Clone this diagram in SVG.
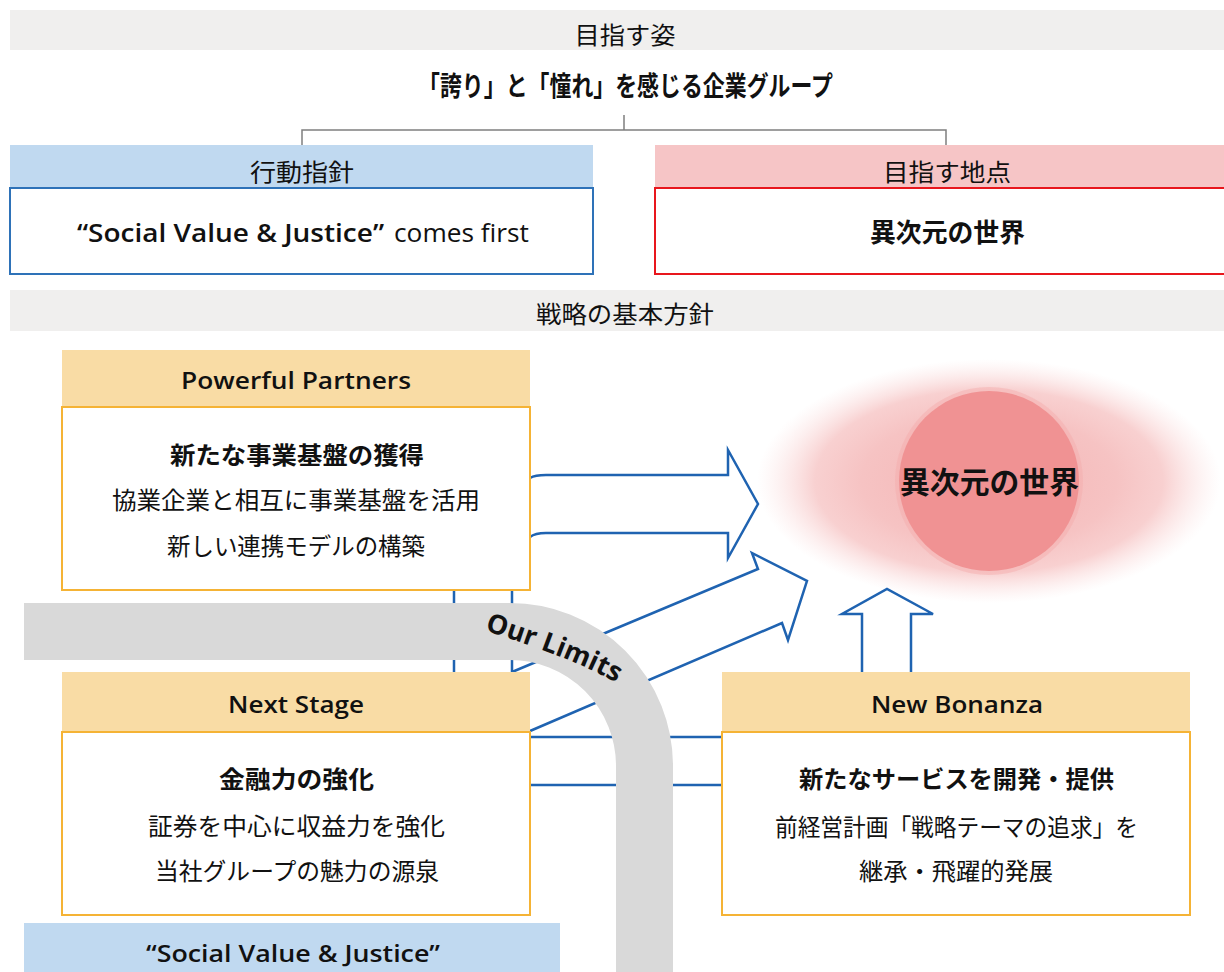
<svg xmlns="http://www.w3.org/2000/svg" width="1224" height="972" viewBox="0 0 1224 972">
<style>
.jp{font-family:"Noto Sans CJK JP","Noto Sans",sans-serif;fill:#111;}
.en{font-family:"Open Sans","Noto Sans","Noto Sans CJK JP",sans-serif;fill:#111;}
.b{font-weight:700;}
.sb{font-weight:600;}
.band{fill:#f0efee;}
.hdrO{fill:#f9dca5;}
.bodyO{fill:#fff;stroke:#f5b335;stroke-width:2;}
.conn{fill:none;stroke:#1f63b1;stroke-width:2.5;stroke-linejoin:miter;}
.tree{fill:none;stroke:#7f7f7f;stroke-width:1.5;}
</style>
<defs>
<radialGradient id="glow" cx="0.5" cy="0.5" r="0.5">
<stop offset="0" stop-color="#f4b4b4"/>
<stop offset="0.55" stop-color="#f6c3c3"/>
<stop offset="0.75" stop-color="#f7c8c8" stop-opacity="0.85"/>
<stop offset="1" stop-color="#fbe0e0" stop-opacity="0"/>
</radialGradient>
<path id="olpath" d="M470,626 Q594,664 632,693"/>
</defs>
<rect width="1224" height="972" fill="#fff"/>

<g id="vision">
<rect class="band" x="10" y="10" width="1214" height="40"/>
<text class="jp" x="625" y="44" font-size="24" text-anchor="middle" textLength="101" lengthAdjust="spacingAndGlyphs">目指す姿</text>
<text class="jp b" x="625.5" y="96" font-size="27" text-anchor="middle" textLength="415" lengthAdjust="spacingAndGlyphs">「誇り」と「憧れ」を感じる企業グループ</text>
</g>

<g id="tree-connector">
<path class="tree" d="M624,115 V130 M302,145 V130 H946 V145"/>
</g>

<g id="action">
<rect x="10" y="145" width="583" height="42" fill="#c0d9f0"/>
<text class="jp" x="302" y="181" font-size="24" text-anchor="middle" textLength="104" lengthAdjust="spacingAndGlyphs">行動指針</text>
<rect x="10" y="188" width="583" height="86" fill="#fff" stroke="#2e72b8" stroke-width="2"/>
<text class="en sb" x="77" y="242" font-size="26" textLength="307" lengthAdjust="spacingAndGlyphs">“Social Value &amp; Justice”</text>
<text class="en" x="394" y="242" font-size="26" textLength="135" lengthAdjust="spacingAndGlyphs">comes first</text>
</g>

<g id="goal">
<rect x="655" y="145" width="569" height="42" fill="#f6c5c6"/>
<text class="jp" x="947" y="181" font-size="24" text-anchor="middle" textLength="128" lengthAdjust="spacingAndGlyphs">目指す地点</text>
<rect x="655" y="188" width="572" height="86" fill="#fff" stroke="#e8161d" stroke-width="2"/>
<text class="jp b" x="947.5" y="242" font-size="26" text-anchor="middle" textLength="155" lengthAdjust="spacingAndGlyphs">異次元の世界</text>
</g>

<g id="strategy-band">
<rect class="band" x="10" y="290" width="1214" height="41"/>
<text class="jp" x="625" y="323" font-size="24" text-anchor="middle" textLength="178" lengthAdjust="spacingAndGlyphs">戦略の基本方針</text>
</g>

<g id="target">
<ellipse cx="989" cy="481" rx="232" ry="122" fill="url(#glow)"/>
<circle cx="989" cy="481" r="94" fill="#f3abab" opacity="0.45"/>
<circle cx="989" cy="481" r="90" fill="#f09293"/>
<text class="jp b" x="989.5" y="493" font-size="30" text-anchor="middle" textLength="179" lengthAdjust="spacingAndGlyphs">異次元の世界</text>
</g>

<g id="connectors">
<path class="conn" d="M530,478 Q535,475 546,475 H728 V450 L758,504 L728,558 V533 H546 Q535,533 530,537"/>
<path class="conn" d="M454,590 V672 M512,590 V672"/>
<path class="conn" d="M512,672 L758,569 L752,553 L807,581 L788,640 L782,623 L530,731"/>
<path class="conn" d="M530,737 H722 M530,785 H722"/>
<path class="conn" d="M862,672 V614 H842 L887,589 L933,614 H911 V672"/>
</g>

<g id="powerful-partners">
<rect class="hdrO" x="62" y="350" width="468" height="56"/>
<text class="en sb" x="296" y="389" font-size="24" text-anchor="middle" textLength="230" lengthAdjust="spacingAndGlyphs">Powerful Partners</text>
<rect class="bodyO" x="62" y="407" width="468" height="183"/>
<text class="jp b" x="297" y="464" font-size="24" text-anchor="middle" textLength="254" lengthAdjust="spacingAndGlyphs">新たな事業基盤の獲得</text>
<text class="jp" x="296" y="509" font-size="24" text-anchor="middle" textLength="368" lengthAdjust="spacingAndGlyphs">協業企業と相互に事業基盤を活用</text>
<text class="jp" x="296" y="555" font-size="24" text-anchor="middle" textLength="258" lengthAdjust="spacingAndGlyphs">新しい連携モデルの構築</text>
</g>

<g id="next-stage">
<rect class="hdrO" x="62" y="672" width="468" height="59"/>
<text class="en sb" x="296" y="713" font-size="24" text-anchor="middle" textLength="136" lengthAdjust="spacingAndGlyphs">Next Stage</text>
<rect class="bodyO" x="62" y="732" width="468" height="183"/>
<text class="jp b" x="296.5" y="788" font-size="24" text-anchor="middle" textLength="155" lengthAdjust="spacingAndGlyphs">金融力の強化</text>
<text class="jp" x="296.5" y="835" font-size="24" text-anchor="middle" textLength="297" lengthAdjust="spacingAndGlyphs">証券を中心に収益力を強化</text>
<text class="jp" x="297" y="880" font-size="24" text-anchor="middle" textLength="284" lengthAdjust="spacingAndGlyphs">当社グループの魅力の源泉</text>
</g>

<g id="new-bonanza">
<rect class="hdrO" x="722" y="672" width="468" height="59"/>
<text class="en sb" x="957" y="713" font-size="24" text-anchor="middle" textLength="172" lengthAdjust="spacingAndGlyphs">New Bonanza</text>
<rect class="bodyO" x="722" y="732" width="468" height="183"/>
<text class="jp b" x="956.5" y="788" font-size="24" text-anchor="middle" textLength="315" lengthAdjust="spacingAndGlyphs">新たなサービスを開発・提供</text>
<text class="jp" x="956.5" y="836" font-size="24" text-anchor="middle" textLength="363" lengthAdjust="spacingAndGlyphs">前経営計画「戦略テーマの追求」を</text>
<text class="jp" x="956" y="880" font-size="24" text-anchor="middle" textLength="194" lengthAdjust="spacingAndGlyphs">継承・飛躍的発展</text>
</g>

<g id="our-limits">
<path d="M24,631.5 H510 A134.5,134.5 0 0 1 644.5,766 V972" fill="none" stroke="#d9d9d9" stroke-width="57"/>
<text class="en b" font-size="27"><textPath href="#olpath" startOffset="15">Our Limits</textPath></text>
</g>

<g id="social-value">
<rect x="24" y="923" width="536" height="49" fill="#c0d9f0"/>
<text class="en sb" x="293" y="962" font-size="24" text-anchor="middle" textLength="294" lengthAdjust="spacingAndGlyphs">“Social Value &amp; Justice”</text>
</g>
</svg>
